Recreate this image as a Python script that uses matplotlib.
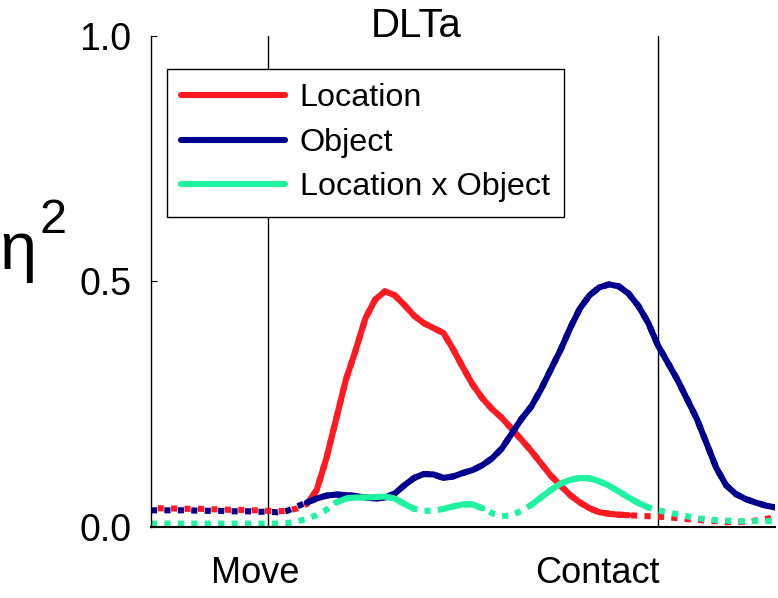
import numpy as np
import matplotlib
matplotlib.use('Agg')
import matplotlib.pyplot as plt

plt.rcParams['font.family'] = ['Liberation Sans', 'DejaVu Sans']

# time (ms) relative to movement onset, 25 ms steps
t = np.arange(-300, 1301, 25)

location = [0.038, 0.038, 0.038, 0.037, 0.037, 0.037, 0.036, 0.036, 0.035, 0.035, 0.034, 0.034,
            0.033, 0.032, 0.033, 0.038, 0.047, 0.075, 0.140, 0.220, 0.300, 0.360, 0.425, 0.463,
            0.480, 0.472, 0.452, 0.430, 0.415, 0.405, 0.395, 0.362, 0.325, 0.290, 0.262, 0.240,
            0.222, 0.200, 0.178, 0.155, 0.130, 0.105, 0.085, 0.065, 0.050, 0.038, 0.030, 0.027,
            0.025, 0.024, 0.023, 0.022, 0.021, 0.020, 0.018, 0.016, 0.015, 0.013, 0.012, 0.010,
            0.010, 0.011, 0.013, 0.016, 0.020]
obj = [0.034, 0.034, 0.034, 0.034, 0.034, 0.033, 0.033, 0.033, 0.032, 0.032, 0.032, 0.031,
       0.031, 0.030, 0.033, 0.042, 0.050, 0.058, 0.064, 0.066, 0.065, 0.063, 0.060, 0.058,
       0.060, 0.068, 0.085, 0.100, 0.108, 0.107, 0.100, 0.103, 0.110, 0.116, 0.126, 0.140,
       0.160, 0.190, 0.220, 0.245, 0.280, 0.320, 0.360, 0.405, 0.445, 0.472, 0.488, 0.494,
       0.490, 0.475, 0.450, 0.416, 0.370, 0.335, 0.300, 0.260, 0.220, 0.170, 0.120, 0.085,
       0.067, 0.057, 0.050, 0.044, 0.040]
loc_x_obj = [0.007, 0.007, 0.007, 0.007, 0.007, 0.007, 0.007, 0.007, 0.007, 0.007, 0.007, 0.007,
             0.007, 0.007, 0.008, 0.011, 0.017, 0.024, 0.035, 0.050, 0.058, 0.060, 0.060, 0.061,
             0.062, 0.058, 0.047, 0.037, 0.033, 0.033, 0.037, 0.042, 0.046, 0.046, 0.038, 0.028,
             0.022, 0.024, 0.033, 0.045, 0.060, 0.075, 0.088, 0.096, 0.100, 0.099, 0.093, 0.084,
             0.072, 0.060, 0.049, 0.040, 0.034, 0.030, 0.026, 0.022, 0.018, 0.016, 0.014, 0.013,
             0.012, 0.012, 0.012, 0.012, 0.012]

# significant windows (solid), otherwise dotted
sig_loc = [(100, 925)]
sig_obj = [(100, 1300)]
sig_lxo = [(175, 375), (450, 550), (675, 975)]

series = [('Location', location, sig_loc, '#ff1a22', (1.1, (1, 1.2))),
          ('Object', obj, sig_obj, '#00008f', (0, (1, 1.2))),
          ('Location x Object', loc_x_obj, sig_lxo, '#1ff2a0', (0, (1, 1.2)))]

fig = plt.figure(figsize=(7.78, 5.98), dpi=100)
ax = fig.add_axes([0.194, 0.1187, 0.802, 0.8213])

lw = 4.4
for name, y, sig, col, dots in series:
    y = np.array(y)
    mask = np.zeros(len(t), dtype=bool)
    for a, b in sig:
        mask |= (t >= a) & (t <= b)
    ax.plot(t, y, color=col, lw=lw, linestyle=dots)
    ax.plot(t, np.where(mask, y, np.nan), color=col, lw=lw, label=name,
            solid_capstyle='round', solid_joinstyle='round')

ax.axvline(0, color='k', lw=1.0, zorder=0)
ax.axvline(1000, color='k', lw=1.0, zorder=0)

ax.set_xlim(-300, 1300)
ax.set_ylim(0, 1)
ax.set_yticks([0, 0.5, 1.0])
ax.set_yticklabels(['0.0', '0.5', '1.0'])
ax.set_xticks([])
ax.tick_params(axis='y', direction='in', length=4, labelsize=27, pad=14)
for s in ['top', 'right']:
    ax.spines[s].set_visible(False)
ax.spines['left'].set_linewidth(1.0)
ax.spines['bottom'].set_linewidth(1.5)

ax.text(-33, -0.06, 'Move', ha='center', va='top', fontsize=26,
        transform=ax.get_xaxis_transform())
ax.text(846, -0.06, 'Contact', ha='center', va='top', fontsize=26,
        transform=ax.get_xaxis_transform())
ax.text(0.425, 0.982, 'DLTa', ha='center', va='bottom', fontsize=29,
        transform=ax.transAxes)
# y label: eta with a large superscript 2
fig.text(0.0, 1 - 269 / 598, 'η', fontsize=48, ha='left', va='baseline')
fig.text(40 / 778, 1 - 233 / 598, '2', fontsize=35, ha='left', va='baseline')

leg = ax.legend(loc='upper left', bbox_to_anchor=(0.0256, 0.933), borderaxespad=0,
                fontsize=23.3, handlelength=3.2, handletextpad=0.45, labelspacing=0.45,
                fancybox=False, framealpha=1, borderpad=0.45)
leg.get_frame().set_edgecolor('k')
leg.get_frame().set_linewidth(1.0)

fig.savefig('out.png', dpi=100)
